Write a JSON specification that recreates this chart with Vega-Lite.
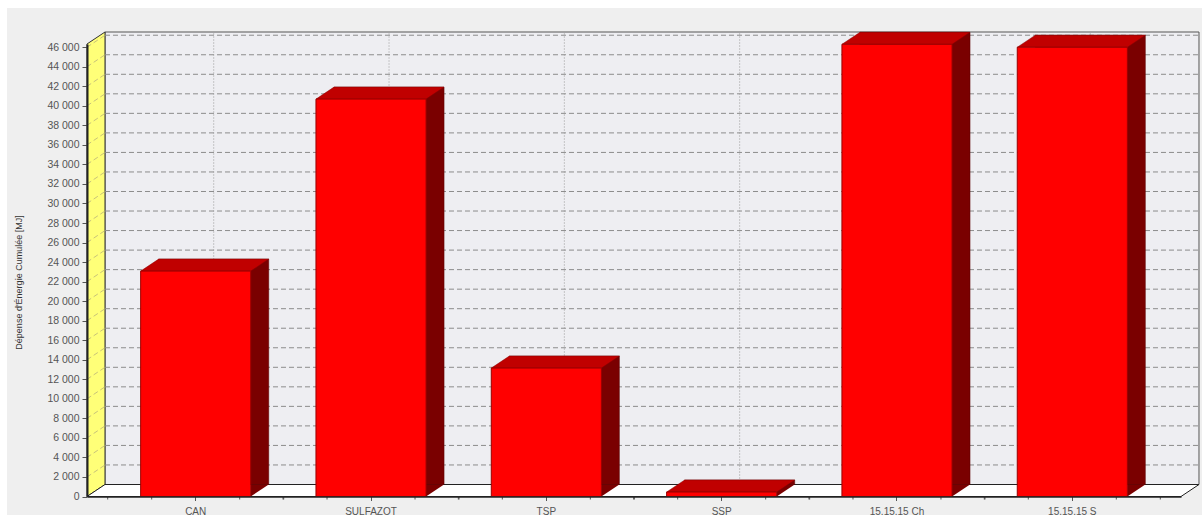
{"$schema":"https://vega.github.io/schema/vega-lite/v6.json","width":1094,"height":452.5,"autosize":"none","padding":{"left":87,"top":44,"right":21,"bottom":18.5},"background":"white",
"title":{"text":"résultats de GEMIS","color":"#3030c8","fontSize":13.5,"font":"Liberation Sans","fontWeight":"normal","anchor":"middle","dx":-29,"offset":20},
"config":{"view":{"stroke":null},"font":"Liberation Sans"},
"datasets":{"bars":[{"cat":"CAN","v":23080},{"cat":"SULFAZOT","v":40690},{"cat":"TSP","v":13150},{"cat":"SSP","v":460},{"cat":"15.15.15 Ch","v":46300},{"cat":"15.15.15 S","v":46000}],
"frame":[{"cat":"CAN","v":0}],
"ticks":[{"v":0},{"v":2000},{"v":4000},{"v":6000},{"v":8000},{"v":10000},{"v":12000},{"v":14000},{"v":16000},{"v":18000},{"v":20000},{"v":22000},{"v":24000},{"v":26000},{"v":28000},{"v":30000},{"v":32000},{"v":34000},{"v":36000},{"v":38000},{"v":40000},{"v":42000},{"v":44000},{"v":46000}]},
"data":{"name":"bars"},
"encoding":{"x":{"field":"cat","type":"nominal","sort":null,"title":null,"scale":{"domain":["CAN","SULFAZOT","TSP","SSP","15.15.15 Ch","15.15.15 S"],"paddingInner":0.372,"paddingOuter":0.306},"axis":{"zindex":1,"labelAngle":0,"labelColor":"#555555","labelFontSize":10,"labelPadding":6,"domain":true,"domainColor":"#222222","domainWidth":1.5,"tickColor":"#555555","tickSize":4,"grid":false}},
"y":{"field":"v","type":"quantitative","title":"Dépense d'Énergie Cumulée [MJ]","scale":{"domain":[0,46330],"nice":false},"axis":{"zindex":1,"values":[0,2000,4000,6000,8000,10000,12000,14000,16000,18000,20000,22000,24000,26000,28000,30000,32000,34000,36000,38000,40000,42000,44000,46000],"labelExpr":"replace(format(datum.value,','),/,/g,' ')","labelColor":"#555555","labelFontSize":10.5,"labelPadding":3,"domainColor":"#222222","domainWidth":2,"tickColor":"#555555","tickSize":5,"grid":false,"titleColor":"#333333","titleFontSize":9,"titleFontWeight":"normal","titleX":-64,"titleY":238,"titleAngle":-90}}},
"layer":[
{"data":{"name":"frame"},"mark":{"type":"point","filled":true,"size":4,"opacity":1,"fill":"#efefef","shape":"M-188.7,18.5V-488.5H1006.3V18.5Z"}},
{"data":{"name":"frame"},"mark":{"type":"point","filled":true,"size":4,"opacity":1,"fill":"#eeeef2","stroke":"#555555","strokeWidth":1,"shape":"M-90.7,-12V-464.5H1003.3V-12Z"}},
{"data":{"name":"frame"},"mark":{"type":"point","filled":true,"size":4,"opacity":1,"fill":"#ffff78","stroke":"#333333","strokeWidth":1,"shape":"M-108.7,0L-90.7,-12V-464.5L-108.7,-452.5Z"}},
{"data":{"name":"ticks"},"encoding":{"x":{"datum":"CAN"}},"mark":{"type":"point","filled":false,"size":4,"opacity":1,"stroke":"#8c8c8c","strokeWidth":1,"strokeDash":[5,3],"shape":"M-90.7,-12H1003.3"}},
{"data":{"name":"ticks"},"encoding":{"x":{"datum":"CAN"}},"mark":{"type":"point","filled":false,"size":4,"opacity":1,"stroke":"#c8c27a","strokeWidth":1,"strokeDash":[5,3],"shape":"M-108.7,0L-90.7,-12"}},
{"encoding":{"y":{"datum":0}},"mark":{"type":"point","filled":false,"size":4,"opacity":1,"stroke":"#999999","strokeWidth":1,"strokeDash":[1,2],"shape":"M18,-12V-464.5"}},
{"data":{"name":"frame"},"mark":{"type":"point","filled":true,"size":4,"opacity":1,"fill":"#ffffff","stroke":"#222222","strokeWidth":1,"shape":"M-108.7,0L-90.7,-12H1003.3L985.3,0Z"}},
{"encoding":{"y":{"datum":0}},"mark":{"type":"point","filled":false,"size":4,"opacity":1,"stroke":"#555555","strokeWidth":1,"shape":"M-88,0v3M-44,0v3M44,0v3M88,0v3"}},
{"mark":{"type":"bar","fill":"#7a0000","stroke":"#5a0000","strokeWidth":0.5,"opacity":1,"xOffset":18,"x2Offset":18,"yOffset":-12,"y2Offset":-12}},
{"encoding":{"y":{"datum":0}},"mark":{"type":"point","filled":true,"size":4,"opacity":1,"fill":"#7a0000","shape":"M55,0L73,-12H55Z"}},
{"mark":{"type":"point","filled":true,"size":4,"opacity":1,"fill":"#c00000","stroke":"#8a0000","strokeWidth":0.5,"shape":"M-55,0L-37,-12H73L55,0Z"}},
{"mark":{"type":"bar","fill":"#ff0000","stroke":"#9a0000","strokeWidth":1,"opacity":1}}
]}
